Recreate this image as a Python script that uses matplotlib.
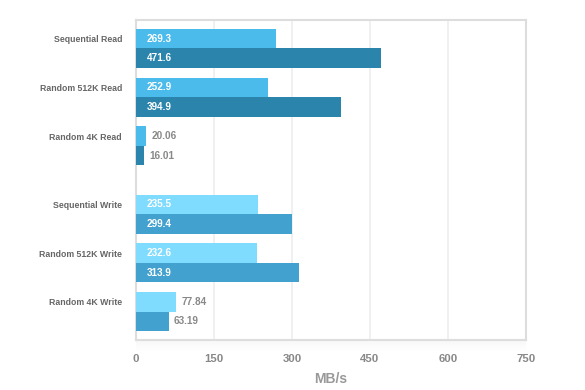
import matplotlib
matplotlib.use("Agg")
from matplotlib import pyplot as plt
import numpy as np

plt.rcParams["font.family"] = ["Liberation Sans", "DejaVu Sans"]

categories = ["Sequential Read", "Random 512K Read", "Random 4K Read",
              "Sequential Write", "Random 512K Write", "Random 4K Write"]
first_values = [269.3, 252.9, 20.06, 235.5, 232.6, 77.84]
second_values = [471.6, 394.9, 16.01, 299.4, 313.9, 63.19]
first_labels = ["269.3", "252.9", "20.06", "235.5", "232.6", "77.84"]
second_labels = ["471.6", "394.9", "16.01", "299.4", "313.9", "63.19"]
x_ticks = [0, 150, 300, 450, 600, 750]

# posiciones de los grupos (hueco extra entre lectura y escritura)
pos = np.array([0, 1, 2, 3.4, 4.4, 5.4])
h = 0.4
light = ["#4bbbec"] * 3 + ["#80dcff"] * 3
dark = ["#2a84ab"] * 3 + ["#42a1cf"] * 3

fig = plt.figure(figsize=(5.85, 3.9), dpi=100)

# sombra suave bajo el grafico
sh = fig.add_axes([136 / 585, 38 / 390, 390 / 585, 12 / 390])
grad = np.linspace(0.06, 0, 12).reshape(-1, 1)
sh.imshow(grad, aspect="auto", cmap="Greys", vmin=0, vmax=1, extent=[0, 1, 0, 1])
sh.axis("off")

ax = fig.add_axes([136 / 585, 50 / 390, 390 / 585, 320 / 390])

ax.barh(pos - h / 2, first_values, height=h, color=light, zorder=3)
ax.barh(pos + h / 2, second_values, height=h, color=dark, zorder=3)


def etiqueta(p, v, t):
    if v > 100:
        ax.text(11 / 0.52, p, t, color="white", fontsize=7.2,
                fontweight="bold", va="center", ha="left", zorder=4)
    else:
        ax.text(v + 10, p, t, color="#888888", fontsize=7.2,
                fontweight="bold", va="center", ha="left", zorder=4)


for p, v, t in zip(pos, first_values, first_labels):
    etiqueta(p - h / 2, v, t)
for p, v, t in zip(pos, second_values, second_labels):
    etiqueta(p + h / 2, v, t)

ax.set_xlim(0, 750)
ax.set_ylim(5.98, -0.58)
ax.set_xticks(x_ticks)
ax.set_xticklabels([str(x) for x in x_ticks], color="#888888", fontsize=8.2,
                   fontweight="bold")
# las etiquetas van a la altura de la primera barra
ax.set_yticks(pos - h / 2)
ax.set_yticklabels(categories, color="#666666", fontsize=6.3, fontweight="bold")
ax.tick_params(length=0)
ax.tick_params(axis="x", pad=10)
ax.tick_params(axis="y", pad=10)
ax.xaxis.grid(True, color="#eeeeee", linewidth=1.2, zorder=0)
for s in ax.spines.values():
    s.set_color("#dddddd")
    s.set_linewidth(1.5)
ax.set_xlabel("MB/s", color="#999999", fontsize=10, fontweight="bold", labelpad=6)

fig.savefig("out.png", dpi=100)
